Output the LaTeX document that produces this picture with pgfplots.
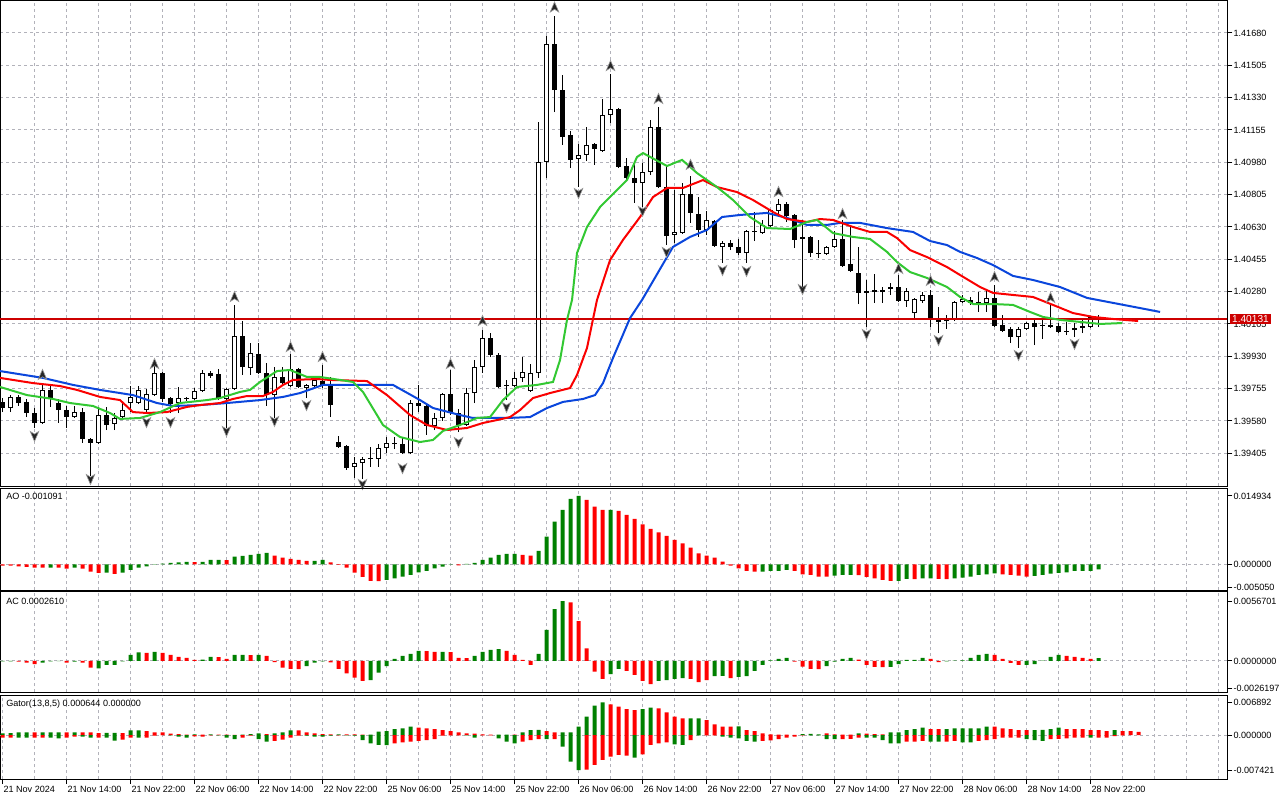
\documentclass[border=0pt]{standalone}
\usepackage{fontspec}
\setmainfont{Liberation Sans}
\usepackage{pgfplots}
\usepackage{pgfplotstable}
\pgfplotsset{compat=1.18}
\definecolor{gridc}{RGB}{178,178,186}
\definecolor{mtgreen}{RGB}{0,128,0}
\definecolor{mtred}{RGB}{255,0,0}
\definecolor{jaw}{RGB}{10,70,220}
\definecolor{teeth}{RGB}{250,0,0}
\definecolor{lips}{RGB}{50,200,50}
\definecolor{pricebox}{RGB}{205,0,0}
\newcommand{\lab}{\fontsize{6.8}{8}\selectfont}

\pgfdeclareplotmark{fup}{%
 \pgfpathmoveto{\pgfpoint{0pt}{1.1\pgfplotmarksize}}%
 \pgfpathlineto{\pgfpoint{0.85\pgfplotmarksize}{-0.9\pgfplotmarksize}}%
 \pgfpathlineto{\pgfpoint{0pt}{-0.35\pgfplotmarksize}}%
 \pgfpathlineto{\pgfpoint{-0.85\pgfplotmarksize}{-0.9\pgfplotmarksize}}%
 \pgfpathclose\pgfusepathqfillstroke}
\pgfdeclareplotmark{fdown}{%
 \pgfpathmoveto{\pgfpoint{0pt}{-1.1\pgfplotmarksize}}%
 \pgfpathlineto{\pgfpoint{0.85\pgfplotmarksize}{0.9\pgfplotmarksize}}%
 \pgfpathlineto{\pgfpoint{0pt}{0.35\pgfplotmarksize}}%
 \pgfpathlineto{\pgfpoint{-0.85\pgfplotmarksize}{0.9\pgfplotmarksize}}%
 \pgfpathclose\pgfusepathqfillstroke}

\pgfplotstableread{
x o h l c
0 1.39683 1.39704 1.39628 1.39650
1 1.39650 1.39720 1.39628 1.39710
2 1.39710 1.39720 1.39661 1.39677
3 1.39683 1.39699 1.39601 1.39623
4 1.39623 1.39650 1.39542 1.39569
5 1.39569 1.39785 1.39564 1.39748
6 1.39748 1.39769 1.39656 1.39704
7 1.39677 1.39699 1.39569 1.39639
8 1.39639 1.39661 1.39542 1.39601
9 1.39601 1.39661 1.39596 1.39628
10 1.39628 1.39650 1.39461 1.39482
11 1.39482 1.39488 1.39282 1.39461
12 1.39461 1.39656 1.39455 1.39612
13 1.39612 1.39656 1.39531 1.39558
14 1.39564 1.39623 1.39531 1.39596
15 1.39601 1.39688 1.39585 1.39639
16 1.39677 1.39769 1.39628 1.39710
17 1.39677 1.39769 1.39672 1.39748
18 1.39639 1.39753 1.39618 1.39726
19 1.39720 1.39877 1.39715 1.39840
20 1.39840 1.39845 1.39683 1.39699
21 1.39704 1.39710 1.39623 1.39672
22 1.39677 1.39764 1.39623 1.39704
23 1.39699 1.39710 1.39688 1.39704
24 1.39699 1.39758 1.39693 1.39742
25 1.39742 1.39856 1.39737 1.39840
26 1.39840 1.39850 1.39813 1.39823
27 1.39834 1.39861 1.39693 1.39699
28 1.39699 1.39758 1.39542 1.39753
29 1.39753 1.40208 1.39748 1.40040
30 1.40040 1.40121 1.39829 1.39872
31 1.39867 1.40002 1.39829 1.39948
32 1.39942 1.40002 1.39834 1.39840
33 1.39840 1.39894 1.39661 1.39720
34 1.39720 1.39872 1.39596 1.39818
35 1.39818 1.39872 1.39775 1.39785
36 1.39769 1.39942 1.39764 1.39861
37 1.39861 1.39867 1.39758 1.39764
38 1.39758 1.39780 1.39704 1.39775
39 1.39769 1.39807 1.39764 1.39802
40 1.39796 1.39883 1.39758 1.39775
41 1.39775 1.39818 1.39601 1.39666
42 1.39466 1.39499 1.39434 1.39439
43 1.39444 1.39450 1.39315 1.39325
44 1.39331 1.39385 1.39271 1.39352
45 1.39352 1.39385 1.39266 1.39374
46 1.39374 1.39439 1.39331 1.39380
47 1.39374 1.39455 1.39331 1.39434
48 1.39434 1.39493 1.39407 1.39461
49 1.39455 1.39493 1.39428 1.39461
50 1.39455 1.39493 1.39401 1.39407
51 1.39407 1.39693 1.39401 1.39677
52 1.39677 1.39775 1.39628 1.39661
53 1.39661 1.39666 1.39504 1.39553
54 1.39553 1.39623 1.39531 1.39596
55 1.39596 1.39731 1.39580 1.39726
56 1.39726 1.39856 1.39612 1.39623
57 1.39623 1.39645 1.39520 1.39558
58 1.39558 1.39758 1.39553 1.39731
59 1.39731 1.39910 1.39677 1.39872
60 1.39872 1.40072 1.39840 1.40029
61 1.40029 1.40056 1.39926 1.39937
62 1.39937 1.39948 1.39758 1.39764
63 1.39769 1.39802 1.39693 1.39775
64 1.39769 1.39845 1.39764 1.39813
65 1.39813 1.39926 1.39791 1.39845
66 1.39742 1.39888 1.39737 1.39840
67 1.39840 1.41198 1.39813 1.40982
68 1.40982 1.41664 1.40895 1.41620
69 1.41620 1.41772 1.41252 1.41371
70 1.41371 1.41453 1.41074 1.41117
71 1.41128 1.41150 1.40949 1.40993
72 1.40998 1.41079 1.40846 1.41020
73 1.41020 1.41171 1.40987 1.41074
74 1.41079 1.41085 1.40966 1.41052
75 1.41041 1.41323 1.41036 1.41236
76 1.41236 1.41458 1.41193 1.41269
77 1.41269 1.41274 1.40949 1.40955
78 1.40960 1.41003 1.40884 1.40895
79 1.40895 1.40976 1.40760 1.40868
80 1.40868 1.40976 1.40738 1.40928
81 1.40928 1.41209 1.40911 1.41171
82 1.41171 1.41279 1.40841 1.40846
83 1.40846 1.40966 1.40532 1.40581
84 1.40587 1.40830 1.40543 1.40603
85 1.40597 1.40868 1.40592 1.40809
86 1.40809 1.40906 1.40652 1.40706
87 1.40700 1.40792 1.40576 1.40614
88 1.40614 1.40717 1.40587 1.40668
89 1.40662 1.40668 1.40522 1.40527
90 1.40522 1.40554 1.40435 1.40543
91 1.40543 1.40560 1.40505 1.40522
92 1.40522 1.40565 1.40478 1.40489
93 1.40489 1.40614 1.40435 1.40608
94 1.40608 1.40711 1.40554 1.40603
95 1.40597 1.40668 1.40592 1.40641
96 1.40635 1.40727 1.40630 1.40722
97 1.40717 1.40781 1.40684 1.40754
98 1.40754 1.40765 1.40657 1.40689
99 1.40695 1.40700 1.40516 1.40560
100 1.40565 1.40668 1.40305 1.40576
101 1.40576 1.40581 1.40467 1.40489
102 1.40489 1.40560 1.40462 1.40484
103 1.40484 1.40527 1.40478 1.40522
104 1.40522 1.40608 1.40516 1.40565
105 1.40565 1.40668 1.40413 1.40419
106 1.40430 1.40630 1.40386 1.40392
107 1.40381 1.40522 1.40213 1.40273
108 1.40273 1.40343 1.40089 1.40283
109 1.40289 1.40376 1.40219 1.40278
110 1.40278 1.40305 1.40219 1.40289
111 1.40294 1.40327 1.40262 1.40305
112 1.40305 1.40370 1.40224 1.40229
113 1.40229 1.40300 1.40197 1.40283
114 1.40164 1.40246 1.40137 1.40240
115 1.40229 1.40278 1.40219 1.40262
116 1.40262 1.40289 1.40089 1.40132
117 1.40132 1.40197 1.40056 1.40116
118 1.40127 1.40154 1.40078 1.40121
119 1.40127 1.40229 1.40121 1.40224
120 1.40224 1.40262 1.40219 1.40240
121 1.40235 1.40251 1.40208 1.40219
122 1.40224 1.40278 1.40170 1.40219
123 1.40219 1.40283 1.40170 1.40246
124 1.40246 1.40316 1.40089 1.40094
125 1.40099 1.40154 1.40062 1.40067
126 1.40078 1.40089 1.40002 1.40034
127 1.40034 1.40089 1.39975 1.40078
128 1.40078 1.40116 1.40072 1.40110
129 1.40110 1.40137 1.39991 1.40089
130 1.40099 1.40127 1.40024 1.40094
131 1.40099 1.40208 1.40083 1.40089
132 1.40094 1.40110 1.40056 1.40062
133 1.40067 1.40116 1.40045 1.40064
134 1.40072 1.40110 1.40034 1.40083
135 1.40083 1.40127 1.40056 1.40094
136 1.40089 1.40148 1.40083 1.40143
137 1.40137 1.40154 1.40089 1.40131
}\candles

\pgfplotsset{
  mtbase/.style={
    scale only axis, width=920.5pt, xmin=-0.3125, xmax=153.1,
    scaled y ticks=false, scaled x ticks=false,
    axis line style={black, line width=0.75pt},
    tick align=outside, ytick pos=right, yticklabel pos=right,
    major tick length=3.75pt,
    tick style={black, line width=0.75pt},
    yticklabel style={font=\lab, inner sep=0.75pt, anchor=west},
    xtick=\empty,
    extra x ticks={4,8,...,152},
    extra x tick style={grid=major, tick style={draw=none}, xticklabel={}},
    major grid style={gridc, dash pattern=on 2.25pt off 2.25pt, line width=0.75pt},
  },
  hbar/.style={ybar, bar width=3pt, bar shift=0pt, draw=none, fill=#1},
}

\begin{document}
\begin{tikzpicture}
\path[use as bounding box, fill=white] (0,0) rectangle (960pt,600pt);

% ---------------- main price panel ----------------
\begin{axis}[mtbase, at={(0pt,235.5pt)}, anchor=south west, height=363.75pt,
  ymin=1.392279, ymax=1.418532, ymajorgrids,
  ytick={1.39405,1.39580,1.39755,1.39930,1.40105,1.40280,1.40455,1.40630,1.40805,1.40980,1.41155,1.41330,1.41505,1.41680},
  yticklabels={1.39405,1.39580,1.39755,1.39930,1.40105,1.40280,1.40455,1.40630,1.40805,1.40980,1.41155,1.41330,1.41505,1.41680}]
% wicks
\addplot[draw=none, mark=none, error bars/.cd, y dir=plus, y explicit, error mark=none,
  error bar style={draw=black, line width=0.75pt}]
  table[x=x, y=l, y error plus expr={\thisrow{h}-\thisrow{l}}] {\candles};
% bodies
\addplot[draw=none, mark=none, error bars/.cd, y dir=plus, y explicit, error mark=none,
  error bar style={draw=black, line width=3.75pt}]
  table[x=x, y expr={min(\thisrow{o},\thisrow{c})}, y error plus expr={max(abs(\thisrow{c}-\thisrow{o}),0.00005)}] {\candles};
% hollow interiors of rising candles
\addplot[draw=none, mark=none, error bars/.cd, y dir=plus, y explicit, error mark=none,
  error bar style={draw=white, line width=2.25pt}]
  table[x=x, y expr={\thisrow{o}+0.000055}, y error plus expr={max(\thisrow{c}-\thisrow{o}-0.00011,0)}] {\candles};
% current price line
\addplot[draw=pricebox, line width=1pt, mark=none] coordinates {(-0.3125,1.40131) (153.1,1.40131)};
% alligator
\addplot[jaw, line width=1.5pt, mark=none] coordinates {(-0.31,1.39850) (5.06,1.39813) (8.81,1.39775) (12.19,1.39748) (16.31,1.39720) (19.31,1.39677) (21.31,1.39661) (24.69,1.39666) (28.06,1.39677) (32.19,1.39693) (35.06,1.39710) (37.19,1.39731) (40.06,1.39775) (43.81,1.39775) (48.81,1.39775) (52.19,1.39693) (53.81,1.39650) (57.19,1.39612) (58.81,1.39596) (63.06,1.39596) (65.94,1.39601) (68.06,1.39650) (70.06,1.39683) (72.56,1.39699) (74.06,1.39720) (75.06,1.39785) (76.31,1.39921) (78.44,1.40137) (79.94,1.40235) (83.06,1.40467) (83.81,1.40522) (85.94,1.40576) (88.06,1.40614) (89.94,1.40684) (92.19,1.40695) (95.56,1.40706) (98.06,1.40679) (100.56,1.40641) (103.06,1.40641) (104.69,1.40652) (107.19,1.40652) (110.56,1.40624) (113.81,1.40603) (115.94,1.40554) (118.06,1.40532) (119.69,1.40495) (121.81,1.40462) (123.81,1.40424) (126.31,1.40365) (128.81,1.40343) (132.19,1.40305) (135.56,1.40246) (138.81,1.40219) (142.19,1.40191) (144.69,1.40170)};
\addplot[teeth, line width=1.5pt, mark=none] coordinates {(-0.31,1.39813) (3.81,1.39785) (7.19,1.39769) (9.31,1.39748) (12.19,1.39710) (14.69,1.39693) (16.31,1.39628) (18.06,1.39623) (20.56,1.39628) (23.06,1.39656) (24.69,1.39666) (27.19,1.39677) (28.81,1.39699) (30.56,1.39715) (32.56,1.39715) (33.81,1.39737) (35.06,1.39775) (36.31,1.39802) (39.31,1.39807) (40.94,1.39802) (45.56,1.39796) (48.06,1.39720) (50.94,1.39612) (53.06,1.39558) (55.56,1.39531) (58.06,1.39542) (60.06,1.39569) (61.81,1.39585) (63.44,1.39601) (64.69,1.39639) (66.31,1.39704) (68.44,1.39731) (70.94,1.39758) (71.81,1.39829) (73.06,1.39975) (74.31,1.40235) (75.94,1.40451) (77.56,1.40560) (79.69,1.40684) (81.31,1.40792) (83.06,1.40841) (85.06,1.40841) (87.56,1.40884) (89.31,1.40846) (91.81,1.40819) (93.81,1.40776) (96.31,1.40711) (98.06,1.40673) (100.56,1.40657) (102.19,1.40673) (103.81,1.40668) (106.31,1.40630) (108.44,1.40603) (110.56,1.40603) (111.81,1.40570) (113.44,1.40505) (115.56,1.40467) (118.06,1.40413) (119.69,1.40370) (122.19,1.40305) (123.81,1.40273) (126.31,1.40262) (128.81,1.40251) (131.31,1.40208) (133.81,1.40164) (136.31,1.40143) (138.81,1.40132) (141.94,1.40121)};
\addplot[lips, line width=1.5pt, mark=none] coordinates {(-0.31,1.39764) (3.06,1.39720) (6.31,1.39699) (8.44,1.39677) (11.31,1.39661) (13.44,1.39623) (14.69,1.39591) (17.19,1.39596) (19.69,1.39628) (22.19,1.39677) (25.56,1.39693) (27.19,1.39704) (29.69,1.39737) (30.94,1.39748) (32.19,1.39791) (34.31,1.39850) (35.94,1.39856) (38.06,1.39818) (39.69,1.39818) (42.19,1.39802) (43.81,1.39791) (45.06,1.39737) (47.56,1.39558) (49.69,1.39493) (52.19,1.39466) (53.81,1.39477) (55.06,1.39526) (57.19,1.39558) (59.31,1.39596) (60.94,1.39601) (62.56,1.39693) (64.31,1.39764) (66.81,1.39775) (68.81,1.39791) (69.69,1.39910) (70.56,1.40127) (71.19,1.40235) (71.81,1.40489) (73.06,1.40630) (74.69,1.40738) (76.81,1.40830) (78.06,1.40884) (79.31,1.41009) (80.06,1.41030) (83.06,1.40960) (84.94,1.40993) (86.81,1.40922) (89.31,1.40846) (91.31,1.40776) (93.44,1.40684) (95.56,1.40624) (98.44,1.40619) (100.56,1.40657) (101.81,1.40668) (103.81,1.40597) (106.31,1.40576) (108.44,1.40565) (110.56,1.40495) (111.81,1.40440) (113.44,1.40386) (115.56,1.40354) (118.06,1.40305) (119.69,1.40251) (121.31,1.40213) (123.81,1.40213) (126.31,1.40208) (128.44,1.40170) (130.06,1.40143) (132.19,1.40127) (134.69,1.40116) (137.19,1.40105) (139.94,1.40110)};
% fractals
\addplot[only marks, mark=fup, mark size=3.8pt, mark options={fill=black!85, draw=black!40, line width=0.45pt}] coordinates {(5,1.39829) (19,1.39888) (29,1.40251) (36,1.39980) (40,1.39926) (56,1.39888) (60,1.40121) (69,1.41818) (76,1.41501) (82,1.41323) (86,1.40966) (97,1.40819) (105,1.40700) (112,1.40403) (116,1.40338) (124,1.40359) (131,1.40246)};
\addplot[only marks, mark=fdown, mark size=3.8pt, mark options={fill=black!85, draw=black!40, line width=0.45pt}] coordinates {(4,1.39499) (11,1.39266) (18,1.39574) (21,1.39574) (28,1.39526) (34,1.39580) (38,1.39666) (45,1.39239) (50,1.39325) (57,1.39466) (63,1.39656) (72,1.40814) (80,1.40717) (83,1.40495) (90,1.40397) (93,1.40392) (100,1.40294) (108,1.40051) (117,1.40018) (127,1.39937) (134,1.39997)};
\coordinate (pl) at (axis cs:153.1,1.40131);
\end{axis}
\node[fill=pricebox, text=white, font=\fontsize{7.6}{8}\selectfont, inner xsep=1.8pt, inner ysep=1.2pt, anchor=west] at ([xshift=1.6pt]pl) {1.40131};

% ---------------- AO ----------------
\begin{axis}[mtbase, at={(0pt,157.5pt)}, anchor=south west, height=76.5pt,
  ymin=-0.005618, ymax=0.016679,
  ytick={-0.005050,0,0.014934}, yticklabels={-0.005050,0.000000,0.014934}]
\addplot[gridc, dash pattern=on 2.25pt off 2.25pt, line width=0.75pt] coordinates {(-0.3125,0) (153.1,0)};
\addplot[hbar=mtgreen] coordinates {(6,-0.000700) (9,-0.000729) (13,-0.001823) (15,-0.001823) (16,-0.001239) (17,-0.000729) (18,-0.000437) (19,-0.000073) (20,0.000146) (21,0.000292) (22,0.000437) (23,0.000510) (25,0.000520) (26,0.000948) (27,0.000960) (29,0.001677) (30,0.001823) (31,0.002041) (32,0.002260) (33,0.002479) (39,0.000740) (40,0.000948) (48,-0.003426) (49,-0.003062) (50,-0.002697) (51,-0.002333) (52,-0.001750) (53,-0.001458) (54,-0.000875) (55,-0.000510) (56,-0.000073) (58,0.000073) (59,0.000292) (60,0.000948) (61,0.001458) (62,0.002041) (63,0.002260) (64,0.002270) (67,0.002916) (68,0.006051) (69,0.009331) (70,0.011883) (71,0.014288) (72,0.014934) (76,0.011900) (95,-0.001590) (96,-0.001458) (97,-0.001450) (98,-0.001239) (104,-0.002479) (105,-0.002333) (106,-0.002320) (112,-0.003630) (113,-0.003208) (115,-0.003062) (116,-0.003050) (119,-0.003062) (120,-0.002916) (121,-0.002697) (122,-0.002333) (123,-0.002187) (124,-0.001968) (129,-0.002552) (130,-0.002333) (131,-0.002041) (132,-0.001895) (133,-0.001750) (134,-0.001458) (135,-0.001450) (136,-0.001440) (137,-0.001091)};
\addplot[hbar=mtred] coordinates {(0,-0.000292) (1,-0.000292) (2,-0.000437) (3,-0.000583) (4,-0.000729) (5,-0.000740) (7,-0.000740) (8,-0.000948) (10,-0.000948) (11,-0.001604) (12,-0.001895) (14,-0.002114) (24,0.000490) (28,0.000940) (34,0.001895) (35,0.001458) (36,0.001166) (37,0.000948) (38,0.000729) (41,0.000437) (42,-0.000146) (43,-0.000729) (44,-0.001823) (45,-0.002770) (46,-0.003645) (47,-0.003660) (57,-0.000219) (65,0.002041) (66,0.001895) (73,0.014070) (74,0.012612) (75,0.011883) (77,0.011664) (78,0.010789) (79,0.009914) (80,0.008748) (81,0.007727) (82,0.006998) (83,0.006197) (84,0.005322) (85,0.004593) (86,0.003645) (87,0.002406) (88,0.001895) (89,0.001458) (90,0.000583) (91,-0.000292) (92,-0.000875) (93,-0.001458) (94,-0.001604) (99,-0.001458) (100,-0.002187) (101,-0.002333) (102,-0.002697) (103,-0.002710) (107,-0.002340) (108,-0.002770) (109,-0.003062) (110,-0.003426) (111,-0.003645) (114,-0.003220) (117,-0.003208) (118,-0.003220) (125,-0.002187) (126,-0.002333) (127,-0.002479) (128,-0.002697)};
\node[anchor=west, font=\lab, inner sep=0pt] at ([xshift=4.5pt,yshift=-6.4pt]rel axis cs:0,1) {AO -0.001091};
\end{axis}

% ---------------- AC ----------------
\begin{axis}[mtbase, at={(0pt,81pt)}, anchor=south west, height=75pt,
  ymin=-0.00293, ymax=0.006521,
  ytick={-0.0026197,0,0.0056701}, yticklabels={-0.0026197,0.0000000,0.0056701}]
\addplot[gridc, dash pattern=on 2.25pt off 2.25pt, line width=0.75pt] coordinates {(-0.3125,0) (153.1,0)};
\addplot[hbar=mtgreen] coordinates {(0,-0.00003) (1,-0.00003) (5,-0.000158) (6,-0.00003) (7,-0.00002) (9,-0.00006) (12,-0.000693) (13,-0.000378) (14,-0.000378) (15,-0.00003) (16,0.000567) (17,0.000819) (19,0.000851) (25,0.000126) (26,0.000378) (29,0.000567) (30,0.000575) (32,0.000570) (38,-0.000473) (39,-0.000158) (40,-0.00003) (46,-0.001796) (47,-0.001103) (48,-0.000473) (49,0.000189) (50,0.000473) (51,0.000662) (52,0.000945) (55,0.000860) (59,0.000473) (60,0.000851) (61,0.00104) (62,0.001134) (67,0.000662) (68,0.00293) (69,0.004914) (70,0.0056701) (76,-0.001229) (77,-0.000756) (82,-0.00189) (83,-0.001796) (84,-0.001701) (85,-0.001607) (89,-0.001418) (90,-0.00141) (92,-0.001512) (93,-0.001418) (94,-0.000945) (95,-0.000378) (96,0.000063) (97,0.000189) (98,0.000284) (103,-0.000473) (104,-0.000063) (105,0.000189) (106,0.000284) (111,-0.00056) (112,-0.000284) (113,0.000095) (114,0.0001) (115,0.000284) (118,-0.00003) (119,0.00003) (120,0.000063) (121,0.000284) (122,0.000567) (123,0.000662) (128,-0.00037) (129,-0.000284) (130,0.00003) (131,0.000378) (132,0.000567) (137,0.000261)};
\addplot[hbar=mtred] coordinates {(2,-0.00006) (3,-0.000158) (4,-0.000284) (8,-0.000158) (10,-0.000158) (11,-0.00063) (18,0.000756) (20,0.000756) (21,0.000567) (22,0.000378) (23,0.000284) (24,0.000095) (27,0.000370) (28,0.000189) (31,0.000560) (33,0.000473) (34,-0.000095) (35,-0.00063) (36,-0.000756) (37,-0.000760) (41,-0.000126) (42,-0.000756) (43,-0.001166) (44,-0.001575) (45,-0.00189) (53,0.000940) (54,0.000851) (56,0.000850) (57,0.000284) (58,0.000280) (63,0.000945) (64,0.000567) (65,0.000095) (66,-0.000378) (71,0.005544) (72,0.00378) (73,0.001197) (74,-0.001008) (75,-0.001701) (78,-0.000945) (79,-0.001323) (80,-0.00189) (81,-0.002174) (86,-0.001701) (87,-0.001985) (88,-0.001796) (91,-0.001607) (99,-0.000063) (100,-0.000536) (101,-0.000756) (102,-0.00076) (107,0.000126) (108,-0.000378) (109,-0.000567) (110,-0.00057) (116,0.000189) (117,-0.000095) (124,0.000567) (125,0.000189) (126,-0.000189) (127,-0.000378) (133,0.000473) (134,0.000378) (135,0.000284) (136,0.000189)};
\node[anchor=west, font=\lab, inner sep=0pt] at ([xshift=4.5pt,yshift=-6.7pt]rel axis cs:0,1) {AC 0.0002610};
\end{axis}

% ---------------- Gator ----------------
\begin{axis}[mtbase, at={(0pt,15.75pt)}, anchor=south west, height=63pt,
  ymin=-0.009284, ymax=0.00844,
  ytick={-0.007421,0,0.006892}, yticklabels={-0.007421,0.000000,0.006892},
  xtick={0,8,...,136},
  xticklabels={{21 Nov 2024},{21 Nov 14:00},{21 Nov 22:00},{22 Nov 06:00},{22 Nov 14:00},{22 Nov 22:00},{25 Nov 06:00},{25 Nov 14:00},{25 Nov 22:00},{26 Nov 06:00},{26 Nov 14:00},{26 Nov 22:00},{27 Nov 06:00},{27 Nov 14:00},{27 Nov 22:00},{28 Nov 06:00},{28 Nov 14:00},{28 Nov 22:00}},
  xtick pos=left, xmajorgrids,
  xticklabel style={font=\lab, anchor=north west, inner sep=0pt, xshift=0.6pt, yshift=-1.2pt},
  extra x ticks={4,12,...,140,144,148,152}]
\addplot[gridc, dash pattern=on 2.25pt off 2.25pt, line width=0.75pt] coordinates {(-0.3125,0) (153.1,0)};
\addplot[hbar=mtgreen] coordinates {(0,0.000352) (1,0.000422) (2,0.000562) (3,0.000570) (5,0.000565) (6,0.000570) (7,0.000575) (9,0.000565) (13,0.000430) (14,0.000440) (16,0.000984) (17,0.000990) (24,0.000141) (26,0.000141) (30,0.000070) (31,0.000211) (32,0.000352) (34,0.000352) (35,0.000562) (36,0.000984) (42,0.000150) (46,0.000080) (47,0.000703) (48,0.000844) (49,0.001265) (50,0.001406) (51,0.001758) (62,0.000080) (63,0.000090) (65,0.000562) (66,0.001055) (67,0.001060) (70,0.000570) (71,0.000580) (72,0.001758) (73,0.003867) (74,0.006186) (75,0.006892) (80,0.005483) (81,0.005765) (86,0.003520) (87,0.003530) (92,0.001800) (100,0.000211) (101,0.000215) (102,0.000141) (107,0.000352) (111,0.000562) (112,0.000570) (113,0.001055) (114,0.001265) (115,0.001547) (118,0.001265) (119,0.001406) (120,0.001410) (121,0.001420) (122,0.001406) (123,0.001758) (129,0.001055) (130,0.001060) (131,0.001265) (132,0.001547) (139,0.001055)};
\addplot[hbar=mtred] coordinates {(4,0.000560) (8,0.000560) (10,0.000560) (11,0.000550) (12,0.000422) (15,0.000420) (18,0.000844) (19,0.000562) (20,0.000550) (21,0.000281) (22,0.000211) (23,0.000070) (25,0.000070) (27,0.000070) (28,0.000060) (29,0.000050) (33,0.000211) (37,0.000970) (38,0.000562) (39,0.000352) (40,0.000211) (41,0.000141) (43,0.000141) (44,0.000130) (45,0.000070) (52,0.001547) (53,0.001406) (54,0.001265) (55,0.001055) (56,0.000844) (57,0.000562) (58,0.000352) (59,0.000281) (60,0.000141) (61,0.000070) (64,0.000070) (68,0.000844) (69,0.000562) (76,0.006468) (77,0.005976) (78,0.005483) (79,0.005273) (82,0.005624) (83,0.004780) (84,0.003867) (85,0.003515) (88,0.003164) (89,0.002250) (90,0.001758) (91,0.001750) (93,0.001055) (94,0.000844) (95,0.000352) (96,0.000141) (97,0.000070) (98,0.000060) (99,0.000050) (103,0.000352) (104,0.000141) (105,0.000070) (106,0.000060) (108,0.000281) (109,0.000211) (110,0.000141) (116,0.001265) (117,0.001260) (124,0.001750) (125,0.001406) (126,0.001265) (127,0.001055) (128,0.001050) (133,0.001265) (134,0.001260) (135,0.001255) (136,0.001055) (137,0.001050) (138,0.000844) (140,0.000844) (141,0.000840) (142,0.000644)};
\addplot[hbar=mtgreen] coordinates {(2,-0.000570) (3,-0.000575) (6,-0.000565) (7,-0.000703) (10,-0.000360) (11,-0.000562) (13,-0.000565) (14,-0.001195) (17,-0.000570) (21,-0.000070) (22,-0.000352) (23,-0.000562) (27,-0.000075) (28,-0.000562) (29,-0.000844) (32,-0.000844) (33,-0.001406) (38,-0.000150) (39,-0.000352) (40,-0.000360) (41,-0.000141) (43,-0.000075) (44,-0.000141) (45,-0.001055) (46,-0.001758) (47,-0.002109) (48,-0.002115) (58,-0.000070) (59,-0.000562) (62,-0.000703) (63,-0.001406) (64,-0.001758) (68,-0.000850) (70,-0.002461) (71,-0.005624) (72,-0.007421) (79,-0.004780) (84,-0.001968) (85,-0.002109) (87,-0.000070) (90,-0.000352) (91,-0.000562) (92,-0.000703) (93,-0.001265) (94,-0.001406) (101,-0.000075) (102,-0.000080) (103,-0.000844) (104,-0.000850) (108,-0.000570) (109,-0.000575) (110,-0.001055) (111,-0.001758) (112,-0.001765) (116,-0.001406) (117,-0.001410) (120,-0.001547) (121,-0.001550) (128,-0.000844) (129,-0.001055) (130,-0.001265) (136,-0.000562)};
\addplot[hbar=mtred] coordinates {(0,-0.000562) (1,-0.000562) (4,-0.000562) (5,-0.000555) (8,-0.000562) (9,-0.000352) (12,-0.000555) (15,-0.000984) (16,-0.000562) (18,-0.000562) (19,-0.000141) (20,-0.000020) (24,-0.000281) (25,-0.000352) (26,-0.000070) (30,-0.000562) (31,-0.000141) (34,-0.001265) (35,-0.000984) (36,-0.000562) (37,-0.000141) (42,-0.000070) (49,-0.001758) (50,-0.001547) (51,-0.001406) (52,-0.001265) (53,-0.001055) (54,-0.000844) (55,-0.000141) (56,-0.000070) (57,-0.000060) (60,-0.000070) (61,-0.000060) (65,-0.001406) (66,-0.001055) (67,-0.000844) (69,-0.000844) (73,-0.007300) (74,-0.006327) (75,-0.005273) (76,-0.004570) (77,-0.004218) (78,-0.004359) (80,-0.004077) (81,-0.002109) (82,-0.001758) (83,-0.001547) (86,-0.001055) (88,-0.000070) (89,-0.000060) (95,-0.001265) (96,-0.001125) (97,-0.000844) (98,-0.000562) (99,-0.000352) (100,-0.000070) (105,-0.000844) (106,-0.000840) (107,-0.000562) (113,-0.001406) (114,-0.001400) (115,-0.001265) (118,-0.001406) (119,-0.001265) (122,-0.001265) (123,-0.001055) (124,-0.000844) (125,-0.000562) (126,-0.000560) (127,-0.000555) (131,-0.000844) (132,-0.000840) (133,-0.000703) (134,-0.000562) (135,-0.000555) (137,-0.000555) (138,-0.000550) (139,-0.000211) (140,-0.000070)};
\node[anchor=west, font=\lab, inner sep=0pt] at ([xshift=4.5pt,yshift=-6.7pt]rel axis cs:0,1) {Gator(13,8,5) 0.000644 0.000000};
\end{axis}
\end{tikzpicture}
\end{document}
